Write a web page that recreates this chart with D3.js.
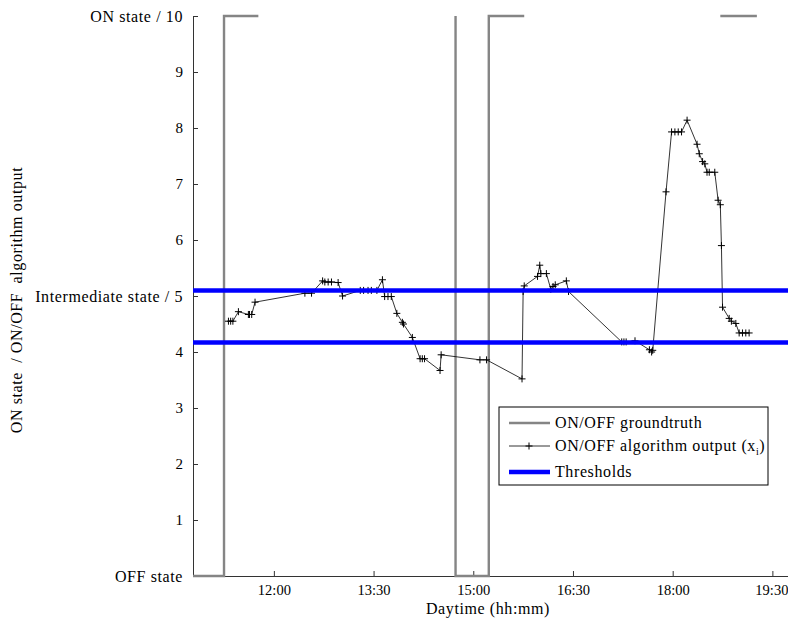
<!DOCTYPE html>
<html>
<head>
<meta charset="utf-8">
<script src="https://cdn.jsdelivr.net/npm/d3@7"></script>
<style>
  body { margin: 0; background: #fff; }
  svg text { font-family: "Liberation Serif", "Times New Roman", serif; fill: #000; }
  .word { font-size: 16px; letter-spacing: 0.6px; }
  .num { font-size: 15px; }
  .xnum { font-size: 14.5px; }
</style>
</head>
<body>
<div id="chart"></div>
<script>
// ground truth (null = no data)
var gtTimes  = ["10:47","11:15","11:15","11:46","11:46","14:44","14:44","15:14","15:14","15:46","15:46","18:43","19:16"];
var gtValues = [0, 0, 10, 10, null, 10, 0, 0, 10, 10, null, 10, 10];

// ON/OFF algorithm output x_i
var algTimes = ["11:19","11:21","11:23","11:28","11:37","11:38","11:40","11:43",
  "12:28","12:34","12:44","12:46","12:49","12:52","12:58","13:02",
  "13:18","13:21","13:25","13:28","13:33","13:38","13:40","13:43","13:46",
  "13:51","13:56","13:57","14:05","14:12","14:14","14:16","14:30","14:31",
  "15:06","15:12","15:44","15:45","15:46","15:58","16:00","16:01","16:06",
  "16:10","16:12","16:14","16:24","16:26","17:14","17:16","17:18","17:26",
  "17:39","17:41","17:42","17:54","17:59","18:02","18:05","18:08","18:13",
  "18:22","18:24","18:27","18:29","18:31","18:33","18:38","18:41","18:43",
  "18:44","18:45","18:51","18:53","18:57","19:00","19:03","19:06","19:09"];
var algValues = [4.55,4.55,4.55,4.72,4.67,4.67,4.67,4.89,
  5.05,5.05,5.27,5.25,5.25,5.25,5.24,5.0,
  5.1,5.1,5.1,5.1,5.1,5.29,4.99,4.99,4.99,
  4.69,4.53,4.5,4.26,3.88,3.88,3.88,3.67,3.95,
  3.86,3.86,3.52,5.08,5.18,5.35,5.55,5.4,5.4,
  5.12,5.17,5.2,5.27,5.08,4.18,4.18,4.18,4.2,
  4.04,4.0,4.03,6.86,7.93,7.93,7.93,7.93,8.14,
  7.71,7.54,7.4,7.36,7.21,7.21,7.21,6.71,6.63,
  5.9,4.8,4.6,4.55,4.51,4.34,4.34,4.34,4.34];

var thresholds = [5.1, 4.17];

var xTicks = ["12:00","13:30","15:00","16:30","18:00","19:30"];
var xDomain = ["10:47","19:45"];
var yTicks = [0,1,2,3,4,5,6,7,8,9,10];
var yTickLabels = {0: "OFF state", 5: "Intermediate state / 5", 10: "ON state / 10"};

var legendItems = ["ON/OFF groundtruth", "ON/OFF algorithm output (x", "Thresholds"];

var parseT = d3.timeParse("%H:%M");

var margin = {top: 16, right: 0, bottom: 47, left: 193};
var W = 788, H = 623;
var width = W - margin.left - margin.right + 1,
    height = H - margin.top - margin.bottom;

var svg = d3.select("#chart").append("svg")
    .attr("width", W).attr("height", H)
  .append("g")
    .attr("transform", "translate(" + margin.left + "," + margin.top + ")");

var x = d3.scaleTime().domain(xDomain.map(parseT)).range([0, width]);
var y = d3.scaleLinear().domain([0, 10]).range([height, 0]);

// axes
var xAxis = d3.axisBottom(x)
    .tickValues(xTicks.map(parseT))
    .tickFormat(d3.timeFormat("%H:%M"))
    .tickSizeInner(-5).tickSizeOuter(0).tickPadding(9);
var yAxis = d3.axisLeft(y)
    .tickValues(yTicks)
    .tickFormat(function(d){ return yTickLabels[d] !== undefined ? yTickLabels[d] : d; })
    .tickSizeInner(-5).tickSizeOuter(0).tickPadding(10);

var gx = svg.append("g").attr("class", "x-axis")
    .attr("transform", "translate(0," + height + ")").call(xAxis);
var gy = svg.append("g").attr("class", "y-axis").call(yAxis);

[gx, gy].forEach(function(g){
  g.selectAll("path, line").attr("stroke", "#333").attr("stroke-width", 1);
  g.selectAll("text").attr("font-family", null).attr("font-size", null);
});
gx.selectAll("text").attr("class", "xnum");
// keep the last label inside the page
gx.selectAll(".tick:last-of-type text").attr("dx", "-1");
gy.selectAll("text").attr("class", function(d){ return yTickLabels[d] ? "word" : "num"; });

// ground truth
var gtData = gtTimes.map(function(t, i){ return {t: parseT(t), v: gtValues[i]}; });
var line = d3.line()
    .defined(function(d){ return d.v !== null; })
    .x(function(d){ return x(d.t); })
    .y(function(d){ return y(d.v); });

svg.append("path").datum(gtData)
    .attr("fill", "none").attr("stroke", "#858585").attr("stroke-width", 2.4)
    .attr("d", line);

// algorithm output
var algData = algTimes.map(function(t, i){ return {t: parseT(t), v: algValues[i]}; });
svg.append("path").datum(algData)
    .attr("fill", "none").attr("stroke", "#000").attr("stroke-width", 0.8)
    .attr("d", line);

svg.selectAll(".mark").data(algData).enter().append("path")
    .attr("class", "mark")
    .attr("transform", function(d){ return "translate(" + x(d.t) + "," + y(d.v) + ")"; })
    .attr("d", "M-3.5,0H3.5M0,-3.5V3.5")
    .attr("stroke", "#000").attr("stroke-width", 1);

// thresholds
svg.selectAll(".thr").data(thresholds).enter().append("line")
    .attr("class", "thr")
    .attr("x1", 0).attr("x2", width)
    .attr("y1", function(d){ return y(d); }).attr("y2", function(d){ return y(d); })
    .attr("stroke", "#0000ff").attr("stroke-width", 4.5);

// y axis title
svg.append("text").attr("class", "word")
    .attr("transform", "translate(" + (22 - margin.left) + "," + (height / 2 + 4) + ") rotate(-90)")
    .attr("text-anchor", "middle")
    .attr("xml:space", "preserve")
    .text("ON state  / ON/OFF  algorithm output");

// x axis title
svg.append("text").attr("class", "word")
    .attr("x", width / 2 - 3).attr("y", height + 38)
    .attr("text-anchor", "middle")
    .text("Daytime (hh:mm)");

// legend
var lg = svg.append("g").attr("transform", "translate(" + (499 - margin.left) + "," + (407 - margin.top) + ")");
lg.append("rect").attr("width", 269).attr("height", 78)
    .attr("fill", "#fff").attr("stroke", "#000").attr("stroke-width", 1);
var rows = [16, 39, 65];
var styles = [{c: "#858585", w: 2.4}, {c: "#000", w: 0.8}, {c: "#0000ff", w: 4.5}];
legendItems.forEach(function(name, i){
  var r = lg.append("g").attr("transform", "translate(0," + rows[i] + ")");
  r.append("line").attr("x1", 10).attr("x2", 51).attr("y1", 0).attr("y2", 0)
      .attr("stroke", styles[i].c).attr("stroke-width", styles[i].w);
  if (i === 1) {
    r.append("path").attr("transform", "translate(30,0)")
        .attr("d", "M-3.5,0H3.5M0,-3.5V3.5").attr("stroke", "#000").attr("stroke-width", 1);
  }
  var t = r.append("text").attr("class", "word").attr("x", 56).attr("y", 5).text(name);
  if (i === 1) {
    t.append("tspan").attr("font-size", "10px").attr("dy", 4).text("i");
    t.append("tspan").attr("dy", -4).text(")");
  }
});
</script>
</body>
</html>
